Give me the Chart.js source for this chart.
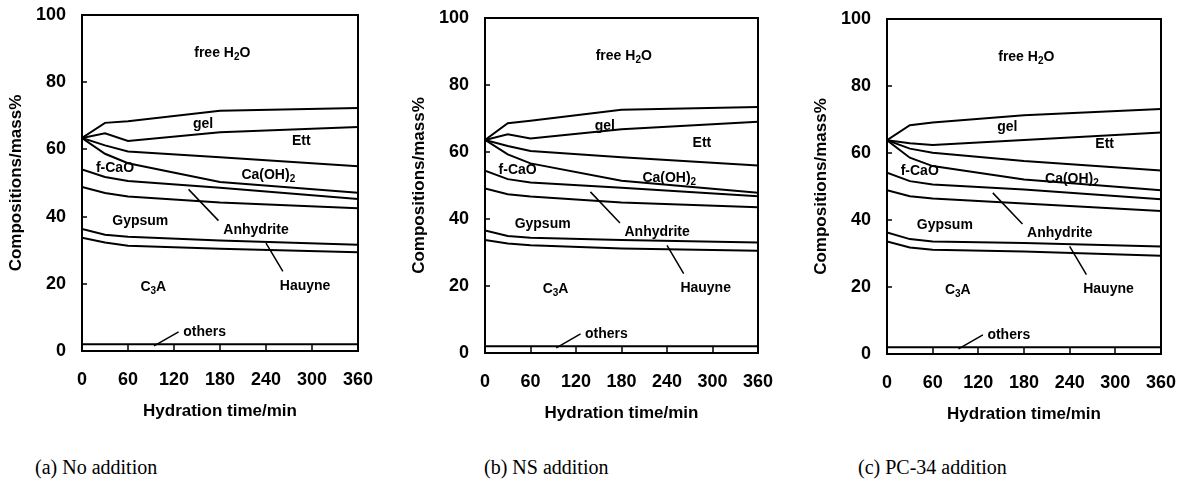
<!DOCTYPE html>
<html>
<head>
<meta charset="utf-8">
<script src="https://cdn.jsdelivr.net/npm/chart.js@4.4.1/dist/chart.umd.min.js"></script>
<style>
  body { margin: 0; background: #fff; width: 1186px; height: 495px; overflow: hidden; position: relative; }
  canvas { position: absolute; top: 0; }
  .caption { position: absolute; top: 455px; font-family: "Liberation Serif", serif; font-size: 20px; line-height: 24px; color: #000; white-space: nowrap; }
</style>
</head>
<body>
<canvas id="chartA"></canvas>
<canvas id="chartB"></canvas>
<canvas id="chartC"></canvas>
<div class="caption" style="left:35px">(a) No addition</div>
<div class="caption" style="left:484px">(b) NS addition</div>
<div class="caption" style="left:858px">(c) PC-34 addition</div>
<script>
// hydration times (min) and axis ticks
const times = [0, 30, 60, 180, 360];
const xTicks = [0, 60, 120, 180, 240, 300, 360];
const yTicks = [0, 20, 40, 60, 80, 100];

// upper boundary of each phase, cumulative mass% — (a) no addition
const othersA    = [2.0, 2.0, 2.0, 2.0, 2.0];
const c3aA       = [33.7, 32.3, 31.3, 30.4, 29.4];
const hauyneA    = [36.3, 34.6, 34.0, 32.9, 31.6];
const gypsumA    = [48.8, 47.0, 46.0, 44.2, 42.5];
const anhydriteA = [54.0, 51.8, 50.6, 48.6, 45.2];
const fcaoA      = [63.4, 58.7, 55.9, 50.3, 47.1];
const caoh2A     = [63.4, 61.2, 59.4, 57.7, 55.0];
const ettA       = [63.4, 64.8, 62.5, 65.1, 66.7];
const gelA       = [63.4, 67.9, 68.4, 71.5, 72.3];

// (b) NS addition
const othersB    = [2.0, 2.0, 2.0, 2.0, 2.0];
const c3aB       = [33.7, 32.7, 32.2, 31.2, 30.5];
const hauyneB    = [36.6, 34.9, 34.4, 33.7, 33.0];
const gypsumB    = [49.1, 47.4, 46.7, 44.9, 43.5];
const anhydriteB = [54.4, 51.9, 50.9, 49.3, 46.8];
const fcaoB      = [63.6, 59.3, 56.6, 51.4, 47.8];
const caoh2B     = [63.6, 61.8, 60.3, 58.4, 56.0];
const ettB       = [63.6, 65.3, 64.0, 66.8, 69.0];
const gelB       = [63.6, 68.6, 69.3, 72.6, 73.4];

// (c) PC-34 addition
const othersC    = [2.0, 2.0, 2.0, 2.0, 2.0];
const c3aC       = [33.6, 31.8, 31.1, 30.6, 29.3];
const hauyneC    = [36.3, 34.3, 33.6, 33.1, 32.1];
const gypsumC    = [48.9, 47.1, 46.4, 44.9, 42.7];
const anhydriteC = [54.1, 51.6, 50.6, 49.1, 46.2];
const fcaoC      = [63.8, 58.6, 56.1, 52.1, 48.9];
const caoh2C     = [63.8, 61.3, 60.1, 57.6, 54.8];
const ettC       = [63.8, 62.9, 62.4, 63.9, 66.1];
const gelC       = [63.8, 68.3, 69.1, 71.3, 73.1];

// phase names placed inside the areas ('_' marks a subscript run)
const phaseLabels = [
  { x: 183, y: 88.6, parts: ['free H', '_2', 'O'] },
  { x: 158, y: 67.6, parts: ['gel'] },
  { x: 286, y: 62.6, parts: ['Ett'] },
  { x: 243, y: 52.3, parts: ['Ca(OH)', '_2'] },
  { x: 43,  y: 54.5, parts: ['f-CaO'] },
  { x: 76,  y: 38.6, parts: ['Gypsum'] },
  { x: 227, y: 36.1, parts: ['Anhydrite'] },
  { x: 93,  y: 19.0, parts: ['C', '_3', 'A'] },
  { x: 291, y: 19.4, parts: ['Hauyne'] },
  { x: 160, y: 5.5,  parts: ['others'] }
];
const leaders = [
  [[139, 48.1], [178, 38.8]],
  [[240, 32.1], [262, 23.7]],
  [[94, 1.5], [126, 5.7]]
];

const LABEL_FONT = '"Liberation Sans", Arial, sans-serif';

function drawRich(ctx, parts, cx, cy, size) {
  const runs = parts.map(p => p.startsWith('_')
    ? { t: p.slice(1), f: `bold ${Math.round(size * 0.72)}px ${LABEL_FONT}`, dy: size * 0.3 }
    : { t: p, f: `bold ${size}px ${LABEL_FONT}`, dy: 0 });
  let w = 0;
  runs.forEach(r => { ctx.font = r.f; r.w = ctx.measureText(r.t).width; w += r.w; });
  let px = cx - w / 2;
  ctx.textAlign = 'left';
  ctx.textBaseline = 'middle';
  runs.forEach(r => { ctx.font = r.f; ctx.fillText(r.t, px, cy + r.dy); px += r.w; });
}

// plot frame, inward tick marks, phase names and leader lines
const framePlugin = {
  id: 'frame',
  afterDatasetsDraw(chart) {
    const { ctx, chartArea: a, scales: { x, y } } = chart;
    ctx.save();
    ctx.strokeStyle = '#000';
    ctx.fillStyle = '#000';
    ctx.lineWidth = 2;
    ctx.strokeRect(a.left, a.top, a.right - a.left, a.bottom - a.top);

    ctx.lineWidth = 1.5;
    ctx.beginPath();
    xTicks.slice(1, -1).forEach(v => {
      const px = Math.round(x.getPixelForValue(v));
      ctx.moveTo(px, a.bottom);
      ctx.lineTo(px, a.bottom - 7);
    });
    yTicks.slice(1, -1).forEach(v => {
      const py = Math.round(y.getPixelForValue(v));
      ctx.moveTo(a.left, py);
      ctx.lineTo(a.left + 5, py);
    });
    leaders.forEach(([p, q]) => {
      ctx.moveTo(x.getPixelForValue(p[0]), y.getPixelForValue(p[1]));
      ctx.lineTo(x.getPixelForValue(q[0]), y.getPixelForValue(q[1]));
    });
    ctx.stroke();

    phaseLabels.forEach(l => drawRich(ctx, l.parts, x.getPixelForValue(l.x), y.getPixelForValue(l.y), 14));
    ctx.restore();
  }
};

function boundaryDatasets(bounds) {
  return bounds.map(vals => ({
    data: times.map((t, i) => ({ x: t, y: vals[i] })),
    borderColor: '#000',
    borderWidth: 2,
    pointRadius: 0,
    tension: 0,
    fill: false
  }));
}

const panels = [
  { id: 'chartA', left: 82, right: 358, top: 15, bottom: 351,
    bounds: [othersA, c3aA, hauyneA, gypsumA, anhydriteA, fcaoA, caoh2A, ettA, gelA] },
  { id: 'chartB', left: 485, right: 758, top: 18, bottom: 353,
    bounds: [othersB, c3aB, hauyneB, gypsumB, anhydriteB, fcaoB, caoh2B, ettB, gelB] },
  { id: 'chartC', left: 887, right: 1161, top: 19, bottom: 354,
    bounds: [othersC, c3aC, hauyneC, gypsumC, anhydriteC, fcaoC, caoh2C, ettC, gelC] }
];

const Y_AXIS_W = 82;
const X_AXIS_H = 75;
const tickFont = { family: LABEL_FONT, size: 18, weight: 'bold' };
const titleFont = { family: LABEL_FONT, size: 17, weight: 'bold' };

function noEdgePadding(s) {
  s.paddingTop = 0;
  s.paddingBottom = 0;
  s.paddingLeft = 0;
  s.paddingRight = 0;
}

panels.forEach(p => {
  const canvas = document.getElementById(p.id);
  const padRight = Math.min(37, 1186 - p.right);
  const w = p.right - p.left + Y_AXIS_W + padRight;
  const h = p.bottom + X_AXIS_H;
  canvas.width = w;
  canvas.height = h;
  canvas.style.left = (p.left - Y_AXIS_W) + 'px';

  new Chart(canvas.getContext('2d'), {
    type: 'line',
    data: { datasets: boundaryDatasets(p.bounds) },
    options: {
      responsive: false,
      animation: false,
      layout: { padding: { left: 0, top: p.top, right: padRight, bottom: 0 } },
      plugins: { legend: { display: false }, tooltip: { enabled: false } },
      scales: {
        x: {
          type: 'linear',
          min: 0,
          max: 360,
          afterBuildTicks: s => { s.ticks = xTicks.map(v => ({ value: v })); },
          afterFit: s => { s.height = X_AXIS_H; noEdgePadding(s); },
          grid: { display: false, drawTicks: false },
          border: { display: false },
          ticks: { font: tickFont, color: '#000', padding: 18, maxRotation: 0 },
          title: { display: true, text: 'Hydration time/min', font: titleFont, color: '#000',
                   padding: { top: 4, bottom: 4 } }
        },
        y: {
          min: 0,
          max: 100,
          afterBuildTicks: s => { s.ticks = yTicks.map(v => ({ value: v })); },
          afterFit: s => { s.width = Y_AXIS_W; noEdgePadding(s); },
          grid: { display: false, drawTicks: false },
          border: { display: false },
          ticks: { font: tickFont, color: '#000', padding: 16 },
          title: { display: true, text: 'Compositions/mass%', font: titleFont, color: '#000',
                   padding: { top: 6, bottom: 4 } }
        }
      }
    },
    plugins: [framePlugin]
  });
});
</script>
</body>
</html>
